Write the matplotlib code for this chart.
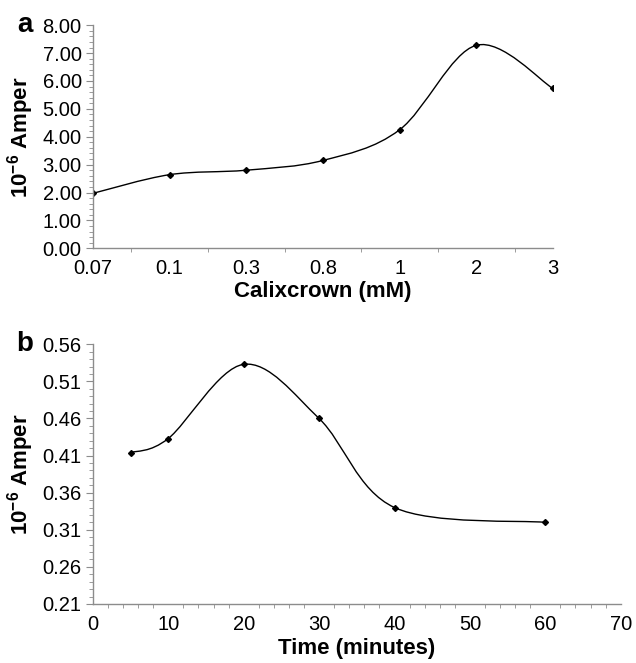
import matplotlib
matplotlib.use("Agg")
import matplotlib.pyplot as plt
from matplotlib.path import Path
from matplotlib.patches import PathPatch
from matplotlib.ticker import MultipleLocator, FixedLocator

plt.rcParams['font.family'] = ['Liberation Sans', 'DejaVu Sans']
plt.rcParams['mathtext.fontset'] = 'custom'
plt.rcParams['mathtext.rm'] = 'Liberation Sans'
plt.rcParams['mathtext.bf'] = 'Liberation Sans:bold'

# panel a: current vs calixcrown concentration
conc_labels = ['0.07', '0.1', '0.3', '0.8', '1', '2', '3']
amper_a = [1.97, 2.64, 2.80, 3.15, 4.25, 7.28, 5.73]

# panel b: current vs time
time_min = [5, 10, 20, 30, 40, 60]
amper_b = [0.414, 0.433, 0.533, 0.460, 0.340, 0.320]

axis_grey = '#8c8c8c'
tick_fs = 14.5
label_fs = 16


def smooth_path(xs, ys):
    # Excel-style smoothed line: cubic Bezier through the points
    pts = list(zip(xs, ys))
    n = len(pts)
    verts = [pts[0]]
    codes = [Path.MOVETO]
    for i in range(n - 1):
        p0 = pts[i - 1] if i > 0 else pts[i]
        p1 = pts[i]
        p2 = pts[i + 1]
        p3 = pts[i + 2] if i + 2 < n else pts[i + 1]
        c1 = (p1[0] + (p2[0] - p0[0]) / 6, p1[1] + (p2[1] - p0[1]) / 6)
        c2 = (p2[0] - (p3[0] - p1[0]) / 6, p2[1] - (p3[1] - p1[1]) / 6)
        verts += [c1, c2, p2]
        codes += [Path.CURVE4] * 3
    return Path(verts, codes)


def style_axes(ax):
    for s in ['top', 'right']:
        ax.spines[s].set_visible(False)
    for s in ['left', 'bottom']:
        ax.spines[s].set_color(axis_grey)
        ax.spines[s].set_linewidth(1.0)
    ax.tick_params(which='both', color=axis_grey, direction='out', labelsize=tick_fs)
    ax.tick_params(which='major', length=5, pad=3)
    ax.tick_params(which='minor', length=3)


fig = plt.figure(figsize=(6.36, 6.63), dpi=100)

# ---- a ----
ax1 = fig.add_axes([0.146, 0.6255, 0.7235, 0.3365])
xa = list(range(len(conc_labels)))
ax1.add_patch(PathPatch(smooth_path(xa, amper_a), fill=False, edgecolor='black', lw=1.0))
ax1.plot(xa, amper_a, linestyle='none', marker='D', markersize=3, color='black')
ax1.set_xlim(0, len(conc_labels) - 1)
ax1.set_ylim(0, 8)
ax1.set_xticks(xa)
ax1.set_xticklabels(conc_labels)
ax1.xaxis.set_minor_locator(FixedLocator([i + 0.5 for i in range(len(conc_labels) - 1)] + [len(conc_labels) - 1]))
ax1.yaxis.set_major_locator(MultipleLocator(1))
ax1.yaxis.set_minor_locator(MultipleLocator(0.2))
ax1.set_yticklabels(['%.2f' % v for v in ax1.get_yticks()])
style_axes(ax1)
ax1.tick_params(axis='x', which='major', length=0, pad=8)
ax1.set_xlabel('Calixcrown (mM)', fontsize=label_fs, fontweight='bold', labelpad=2)
ax1.set_ylabel(r'10$^{\mathbf{-6}}$ Amper', fontsize=label_fs, fontweight='bold')
ax1.yaxis.set_label_coords(-0.123, 0.5)
fig.text(0.039, 0.962, 'a', fontsize=20, fontweight='bold', ha='center', va='center')

# ---- b ----
ax2 = fig.add_axes([0.146, 0.089, 0.83, 0.3917])
ax2.add_patch(PathPatch(smooth_path(time_min, amper_b), fill=False, edgecolor='black', lw=1.0))
ax2.plot(time_min, amper_b, linestyle='none', marker='D', markersize=3, color='black')
ax2.set_xlim(0, 70)
ax2.set_ylim(0.21, 0.56)
ax2.xaxis.set_major_locator(MultipleLocator(10))
ax2.xaxis.set_minor_locator(MultipleLocator(2))
yb = [0.21, 0.26, 0.31, 0.36, 0.41, 0.46, 0.51, 0.56]
ax2.set_yticks(yb)
ax2.set_yticklabels(['%.2f' % v for v in yb])
ax2.yaxis.set_minor_locator(MultipleLocator(0.01))
style_axes(ax2)
ax2.tick_params(axis='x', which='major', length=0, pad=8)
ax2.set_xlabel('Time (minutes)', fontsize=label_fs, fontweight='bold', labelpad=3)
ax2.set_ylabel(r'10$^{\mathbf{-6}}$ Amper', fontsize=label_fs, fontweight='bold')
ax2.yaxis.set_label_coords(-0.107, 0.5)
fig.text(0.039, 0.4807, 'b', fontsize=20, fontweight='bold', ha='center', va='center')

fig.savefig('out.png', dpi=100)
